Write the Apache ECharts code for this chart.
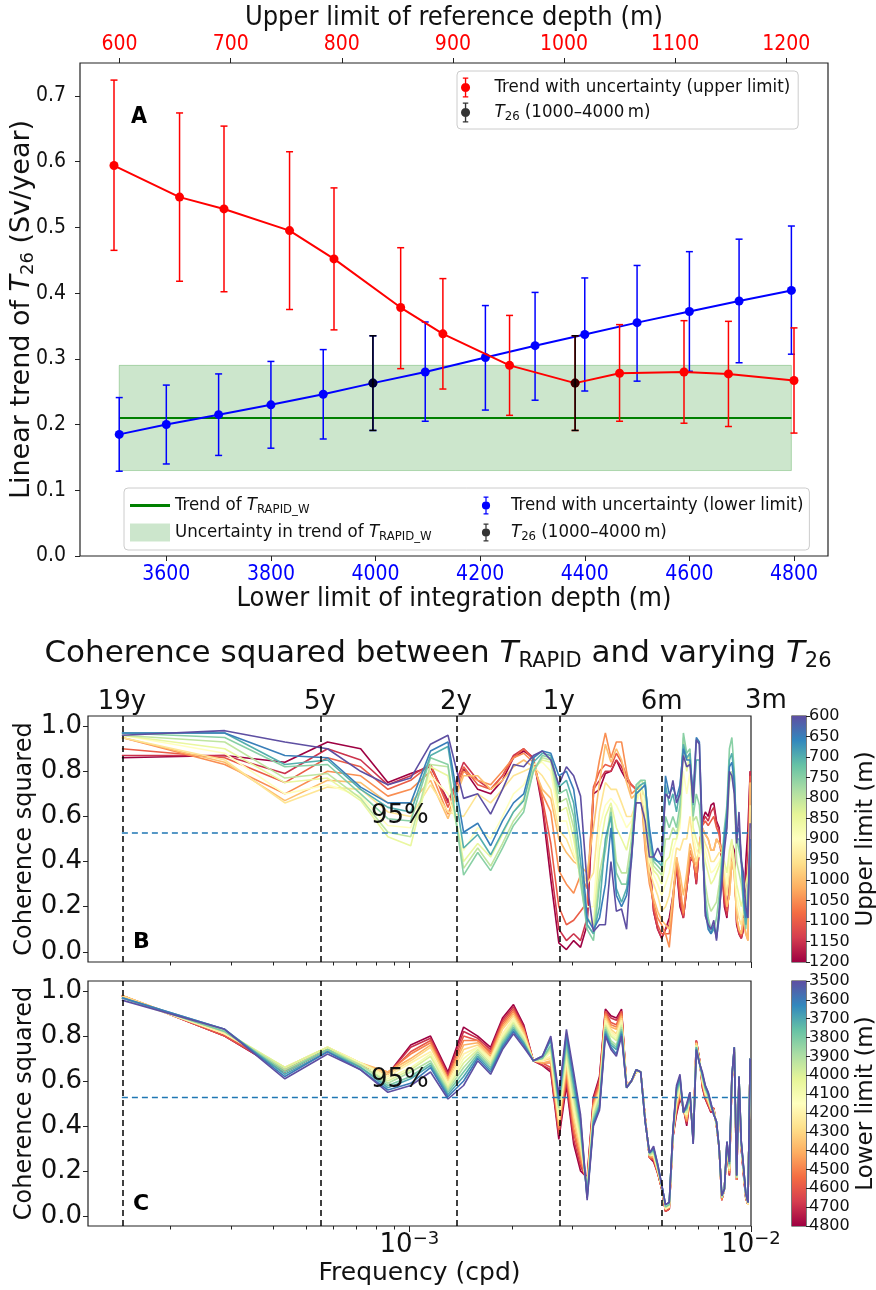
<!DOCTYPE html>
<html>
<head>
<meta charset="utf-8">
<title>T26 trend and coherence</title>
<script src="https://cdn.jsdelivr.net/npm/echarts@6.0.0/dist/echarts.min.js"></script>
<style>
html, body { margin: 0; padding: 0; background: #fff; }
#chart { width: 876px; height: 1290px; }
</style>
</head>
<body>
<div id="chart"></div>
<script>
// ---------- panel A : linear trend of T26 ----------
var lowerDepth = [3510, 3600, 3700, 3800, 3900, 3995, 4095, 4210, 4305, 4400, 4500, 4600, 4695, 4795];
var lowerTrend = [0.185, 0.200, 0.215, 0.230, 0.246, 0.263, 0.280, 0.302, 0.320, 0.337, 0.355, 0.372, 0.388, 0.404];
var lowerErrLo = [0.129, 0.140, 0.153, 0.164, 0.178, 0.191, 0.205, 0.222, 0.237, 0.251, 0.266, 0.281, 0.294, 0.307];
var lowerErrHi = [0.241, 0.260, 0.277, 0.296, 0.314, 0.335, 0.356, 0.381, 0.401, 0.423, 0.442, 0.463, 0.482, 0.502];

var upperDepth = [595, 654, 694, 753, 793, 853, 891, 951, 1010, 1050, 1108, 1148, 1207];
var upperTrend = [0.594, 0.546, 0.528, 0.495, 0.452, 0.378, 0.338, 0.290, 0.263, 0.278, 0.280, 0.277, 0.267];
var upperErrLo = [0.465, 0.418, 0.402, 0.375, 0.344, 0.285, 0.254, 0.214, 0.191, 0.205, 0.202, 0.197, 0.187];
var upperErrHi = [0.724, 0.674, 0.654, 0.615, 0.560, 0.469, 0.422, 0.366, 0.335, 0.352, 0.358, 0.357, 0.347];

// T26 (1000-4000 m): same point seen on both axes
var t26Depth = [3995, 1010];
var t26Trend = 0.263, t26Lo = 0.191, t26Hi = 0.335;

// T_RAPID_W trend and its uncertainty
var rapidTrend = 0.21, rapidLo = 0.13, rapidHi = 0.29;

var ticksLower = [3600, 3800, 4000, 4200, 4400, 4600, 4800];
var ticksUpper = [600, 700, 800, 900, 1000, 1100, 1200];
var ticksTrend = [0, 0.1, 0.2, 0.3, 0.4, 0.5, 0.6, 0.7];

// ---------- panels B, C : coherence squared ----------
// frequencies in 1e-4 cpd
var freqE4 = [1.44, 2.88, 4.32, 5.76, 7.20, 8.65, 10.09, 11.53, 12.97, 14.41, 15.85, 17.29, 18.73, 20.17, 21.61,
  23.06, 24.50, 25.94, 27.38, 28.82, 30.26, 31.70, 33.14, 34.58, 36.02, 37.47, 38.91, 40.35, 41.79, 43.23,
  44.67, 46.11, 47.55, 48.99, 50.43, 51.87, 53.32, 54.76, 56.20, 57.64, 59.08, 60.52, 61.96, 63.40, 64.84,
  66.28, 67.73, 69.17, 70.61, 72.05, 73.49, 74.93, 76.37, 77.81, 79.25, 80.69, 82.14, 83.58, 85.02, 86.46,
  87.90, 89.34, 90.78, 92.22, 93.66, 95.10, 96.55, 97.99, 99.43];

var upperLimits = [600, 650, 700, 750, 800, 850, 900, 950, 1000, 1050, 1100, 1150, 1200];
var lowerLimits = [3500, 3600, 3700, 3800, 3900, 4000, 4100, 4200, 4300, 4400, 4500, 4600, 4700, 4800];

// one row per frequency, one column per upper limit (percent)
var cohUpper = [
  [96,97,97,97,96,96,96,95,95,95,90,87,86],
  [98,97,97,95,93,90,88,85,84,83,86,87,87],
  [93,87,83,82,77,75,70,66,67,70,75,79,84],
  [90,86,85,83,79,77,74,73,76,80,86,90,93],
  [80,73,72,70,68,67,69,72,75,78,82,85,90],
  [74,66,64,59,53,51,56,62,66,69,72,74,75],
  [77,66,62,58,51,47,55,60,66,72,76,78,79],
  [92,89,87,86,83,82,78,74,76,80,83,83,82],
  [96,93,91,83,82,78,70,62,59,61,64,66,67],
  [68,53,46,34,37,40,45,60,78,80,82,84,81],
  [70,57,52,44,46,48,55,70,78,76,74,76,72],
  [61,47,43,36,38,42,50,66,72,74,72,72,70],
  [72,58,53,46,48,52,60,72,76,80,78,78,76],
  [83,66,62,56,58,62,70,78,82,86,86,87,86],
  [82,70,67,62,64,68,74,80,85,88,90,90,89],
  [87,86,84,80,80,81,83,82,82,84,85,86,86],
  [89,89,88,87,86,85,84,78,72,70,68,66,64],
  [85,88,87,86,85,84,80,72,68,62,48,38,32],
  [74,78,73,70,66,62,58,54,50,36,20,10,4],
  [82,80,76,72,68,64,58,50,44,30,12,5,1],
  [78,72,66,60,55,50,44,42,40,26,14,8,5],
  [69,50,40,32,30,32,34,38,38,34,18,5,2],
  [30,15,12,10,12,15,20,30,35,28,22,15,12],
  [9,10,8,5,8,12,20,35,55,70,73,72,70],
  [12,15,20,30,35,45,55,62,75,85,80,76,72],
  [12,30,50,45,48,60,65,75,92,97,83,80,79],
  [40,55,60,62,64,66,68,72,84,86,82,80,80],
  [18,25,28,35,40,55,65,72,90,93,88,85,85],
  [19,20,22,30,35,50,60,66,85,93,84,82,80],
  [10,25,28,30,35,45,55,60,75,80,78,76,76],
  [42,40,42,45,50,55,58,60,68,70,74,74,74],
  [66,70,72,74,72,68,65,66,70,72,72,72,72],
  [66,72,74,76,76,74,73,72,72,73,73,74,73],
  [58,74,75,76,74,68,62,55,48,45,50,54,55],
  [42,55,52,48,46,42,40,36,32,30,36,40,42],
  [42,42,41,40,38,36,34,30,24,22,20,18,18],
  [46,40,40,38,36,34,30,25,18,15,12,10,10],
  [42,40,38,36,34,30,25,18,14,12,8,6,6],
  [70,78,74,60,50,40,30,20,12,8,8,10,10],
  [68,70,65,55,50,42,35,25,10,2,8,12,15],
  [76,73,70,60,55,50,45,35,25,20,22,24,25],
  [66,68,62,55,52,50,50,46,42,42,40,38,38],
  [70,74,72,65,60,58,55,45,35,30,25,22,20],
  [87,90,92,97,95,90,80,50,25,17,16,15,15],
  [82,85,86,88,85,80,70,50,35,30,29,28,28],
  [83,85,88,90,88,88,80,60,48,45,42,40,40],
  [66,70,65,60,58,55,52,48,42,40,41,42,42],
  [94,95,85,70,60,50,45,40,38,35,32,30,30],
  [92,93,85,65,55,45,42,45,48,48,47,46,46],
  [50,52,50,45,45,48,50,52,55,55,56,57,58],
  [16,18,20,25,30,40,45,48,52,52,58,60,62],
  [12,10,12,15,22,35,40,45,50,50,56,58,60],
  [10,8,8,10,18,30,35,40,45,45,58,62,65],
  [14,12,10,10,20,32,36,40,45,45,60,64,66],
  [5,6,8,15,22,35,38,42,50,50,55,57,58],
  [18,15,18,25,30,38,40,44,48,48,52,54,55],
  [30,35,38,40,42,42,43,44,45,45,42,40,38],
  [45,50,52,55,50,40,38,35,30,30,25,22,20],
  [55,60,62,65,55,35,30,25,20,20,18,16,15],
  [80,82,85,90,75,45,40,35,25,25,28,29,30],
  [78,84,88,95,80,50,48,45,40,40,44,46,48],
  [70,75,78,80,70,40,38,36,35,35,40,43,45],
  [48,52,50,50,40,30,25,20,15,15,14,13,12],
  [62,55,50,45,35,25,20,15,10,10,9,8,8],
  [40,42,41,40,30,20,15,12,8,8,7,6,6],
  [35,25,22,20,22,25,22,18,15,15,12,10,10],
  [20,15,12,10,20,30,25,15,8,8,20,30,40],
  [15,20,22,25,30,35,30,20,5,5,30,45,55],
  [57,50,48,45,48,50,55,65,75,75,78,80,80]
];

// one row per frequency, one column per lower limit (percent)
var cohLower = [
  [96,97,97,97,97,97,97,97,98,98,98,98,98,98],
  [83,83,83,82,82,82,82,81,81,81,81,80,80,80],
  [61,62,63,64,65,66,66,66,66,66,65,65,64,64],
  [72,73,73,74,74,75,75,75,75,75,74,74,74,74],
  [65,65,66,66,67,67,68,68,68,68,67,67,67,67],
  [55,56,57,58,59,60,61,62,63,64,64,63,63,63],
  [58,59,61,62,64,65,66,68,69,70,72,73,75,76],
  [64,66,67,68,69,71,72,73,75,76,77,78,79,80],
  [52,53,54,55,56,57,58,59,60,61,61,62,63,64],
  [58,60,62,64,66,68,70,72,74,76,78,80,82,84],
  [69,70,71,72,73,74,75,75,76,77,78,78,79,80],
  [63,64,65,66,67,68,69,70,70,71,72,73,74,75],
  [74,75,76,77,78,79,80,81,83,84,85,86,87,88],
  [81,82,83,84,85,86,87,88,89,90,91,92,93,94],
  [75,76,77,77,78,79,80,80,81,82,83,83,84,85],
  [69,69,69,69,69,69,69,69,69,69,69,69,69,69],
  [71,71,71,70,70,70,69,69,69,68,68,68,67,67],
  [80,79,78,76,75,74,73,71,70,69,68,66,65,64],
  [54,52,51,49,48,46,45,43,42,40,39,37,36,34],
  [83,81,79,77,75,73,71,70,68,66,64,62,60,58],
  [64,62,59,57,54,52,49,47,44,42,39,37,34,32],
  [45,43,41,39,37,35,34,32,30,28,26,24,22,20],
  [7,8,8,9,10,11,11,12,13,14,14,15,16,17],
  [40,41,42,43,44,45,46,47,48,49,50,51,52,53],
  [47,48,49,50,52,53,54,55,56,57,58,60,61,62],
  [80,81,82,83,84,85,86,87,88,89,90,91,91,92],
  [74,75,76,77,78,80,81,82,83,84,85,86,88,89],
  [71,72,74,75,76,78,79,80,81,83,84,85,87,88],
  [80,81,82,83,84,85,86,87,88,89,90,91,91,92],
  [57,57,57,57,57,57,57,58,58,58,58,58,58,58],
  [60,60,60,60,60,60,60,60,60,60,60,60,60,60],
  [65,65,65,65,65,65,65,64,64,64,64,64,64,64],
  [64,64,64,64,64,64,64,64,64,64,64,64,64,64],
  [42,42,42,42,43,43,43,43,43,43,44,44,44,44],
  [28,28,28,28,27,27,27,27,27,27,26,26,26,26],
  [31,30,30,29,29,28,28,27,27,26,26,25,25,24],
  [23,23,22,22,22,21,21,21,20,20,20,19,19,19],
  [14,14,14,14,13,13,13,13,13,13,12,12,12,12],
  [5,5,5,4,4,4,4,3,3,3,3,2,2,2],
  [6,6,6,5,5,5,5,4,4,4,4,3,3,3],
  [38,38,38,37,37,37,37,36,36,36,36,35,35,35],
  [58,57,56,55,54,53,52,51,50,49,48,47,46,45],
  [63,62,61,60,60,59,58,57,56,55,55,54,53,52],
  [46,46,46,46,47,47,47,47,47,47,48,48,48,48],
  [50,49,48,48,47,46,45,45,44,43,42,42,41,40],
  [55,55,55,54,54,54,54,53,53,53,53,52,52,52],
  [32,32,33,33,33,34,34,34,35,35,35,36,36,36],
  [74,74,75,75,75,76,76,76,77,77,77,78,78,78],
  [68,68,68,68,69,69,69,69,69,69,70,70,70,70],
  [64,63,63,62,62,61,61,60,60,59,59,58,58,57],
  [58,58,57,57,56,56,55,55,54,54,53,53,52,52],
  [55,55,54,54,53,53,52,52,51,51,50,50,49,49],
  [50,50,49,49,49,48,48,48,48,47,47,47,46,46],
  [45,45,45,46,46,46,46,47,47,47,47,48,48,48],
  [42,42,42,41,41,41,41,41,41,40,40,40,40,40],
  [30,30,30,30,30,30,30,30,30,30,30,30,30,30],
  [9,9,9,9,8,8,8,8,8,8,7,7,7,7],
  [12,12,12,12,12,12,12,12,12,12,12,12,12,12],
  [33,33,33,32,32,32,32,31,31,31,31,30,30,30],
  [24,24,23,23,22,22,21,21,20,20,19,19,18,18],
  [62,62,62,62,61,61,61,61,61,61,60,60,60,60],
  [75,75,75,75,74,74,74,74,74,74,73,73,73,73],
  [18,18,18,18,17,17,17,17,17,17,16,16,16,16],
  [62,62,62,62,61,61,61,61,61,61,60,60,60,60],
  [33,33,33,32,32,32,32,31,31,31,31,30,30,30],
  [22,22,21,21,21,20,20,20,20,19,19,19,18,18],
  [10,10,10,10,9,9,9,9,9,9,8,8,8,8],
  [6,6,6,6,6,6,6,5,5,5,5,5,5,5],
  [70,70,70,70,70,70,70,70,70,70,70,70,70,70]
];

var sig95 = 0.527;
var periodLabel = ['19y', '5y', '2y', '1y', '6m', '3m'];
var periodDays = [6939.75, 1826.25, 730.5, 365.25, 182.625, 91.3125];
var freqMin = 1.146e-4, freqMax = 1e-2;
var minorFreq = [2e-4, 3e-4, 4e-4, 5e-4, 6e-4, 7e-4, 8e-4, 9e-4, 2e-3, 3e-3, 4e-3, 5e-3, 6e-3, 7e-3, 8e-3, 9e-3];
var majorFreq = [1e-3, 1e-2];

// ---------- styling helpers ----------
var FA = '"DejaVu Sans Condensed", "DejaVu Sans", sans-serif';
var FB = '"DejaVu Sans", sans-serif';
var INK = '#222';
var spectral = ['#9e0142', '#d53e4f', '#f46d43', '#fdae61', '#fee08b', '#ffffbf',
  '#e6f598', '#abdda4', '#66c2a5', '#3288bd', '#5e4fa2'];

function hexRgb(h) {
  return [parseInt(h.substr(1, 2), 16), parseInt(h.substr(3, 2), 16), parseInt(h.substr(5, 2), 16)];
}
function cmap(t) {
  var p = t * (spectral.length - 1);
  var i = Math.min(Math.floor(p), spectral.length - 2);
  var f = p - i, a = hexRgb(spectral[i]), b = hexRgb(spectral[i + 1]);
  return 'rgb(' + [0, 1, 2].map(function (j) { return Math.round(a[j] + (b[j] - a[j]) * f); }).join(',') + ')';
}
var lg = Math.log10;
var XMIN = lg(freqMin), XMAX = lg(freqMax);
var periodLog = periodDays.map(function (d) { return lg(1 / d); });

// error bars as a custom series
function errBars(name, xIdx, xs, lo, hi, color, z) {
  return {
    type: 'custom', name: name, xAxisIndex: xIdx, yAxisIndex: 0, z: z, silent: true,
    itemStyle: { color: color },
    data: xs.map(function (x, i) { return [x, lo[i], hi[i]]; }),
    renderItem: function (params, api) {
      var a = api.coord([api.value(0), api.value(2)]);
      var b = api.coord([api.value(0), api.value(1)]);
      var st = { stroke: color, lineWidth: 1.5 };
      return { type: 'group', children: [
        { type: 'line', shape: { x1: a[0], y1: a[1], x2: b[0], y2: b[1] }, style: st },
        { type: 'line', shape: { x1: a[0] - 3.5, y1: a[1], x2: a[0] + 3.5, y2: a[1] }, style: st },
        { type: 'line', shape: { x1: b[0] - 3.5, y1: b[1], x2: b[0] + 3.5, y2: b[1] }, style: st }
      ] };
    }
  };
}

// one line per depth limit, coloured with Spectral
function cohSeries(table, limits, xIdx, yIdx) {
  var lo = limits[0], hi = limits[limits.length - 1], out = [];
  for (var j = limits.length - 1; j >= 0; j--) {
    out.push({
      type: 'line', xAxisIndex: xIdx, yAxisIndex: yIdx, symbol: 'none', silent: true, z: 3,
      lineStyle: { color: cmap(1 - (limits[j] - lo) / (hi - lo)), width: 1.6 },
      data: freqE4.map(function (f, i) { return [lg(f * 1e-4), table[i][j] / 100]; })
    });
  }
  return out;
}

function colorbar(xIdx, yIdx, limits) {
  var stops = spectral.slice().reverse().map(function (c, i) { return { offset: i / 10, color: c }; });
  return {
    type: 'custom', xAxisIndex: xIdx, yAxisIndex: yIdx, silent: true,
    data: [[0, limits[0], 1, limits[limits.length - 1]]],
    renderItem: function (params, api) {
      var p0 = api.coord([api.value(0), api.value(1)]);
      var p1 = api.coord([api.value(2), api.value(3)]);
      return { type: 'rect',
        shape: { x: p0[0], y: Math.min(p0[1], p1[1]), width: p1[0] - p0[0], height: Math.abs(p1[1] - p0[1]) },
        style: { fill: new echarts.graphic.LinearGradient(0, 0, 0, 1, stops) } };
    }
  };
}

var ebIcon = 'path://M3,0H9V1.5H6.75V20.5H9V22H3V20.5H5.25V1.5H3Z M6,6A5,5,0,1,1,6,16A5,5,0,1,1,6,6Z';
var legendNames = {
  upper: 'Trend with uncertainty (upper limit)',
  lower: 'Trend with uncertainty (lower limit)',
  t26: '{i|T}{s|26} (1000\u20134000\u2009m)',
  rapid: 'Trend of {i|T}{s|RAPID_W}',
  band: 'Uncertainty in trend of {i|T}{s|RAPID_W}'
};
var legendRich = {
  i: { fontFamily: FA, fontStyle: 'italic', fontSize: 18.5, lineHeight: 21, color: '#111' },
  s: { fontFamily: FA, fontSize: 13, lineHeight: 12, verticalAlign: 'bottom', color: '#111' }
};

function cohY(grid) {
  return {
    gridIndex: grid, type: 'value', min: -0.045, max: 1.045,
    axisLine: { show: false, onZero: false }, splitLine: { show: false },
    axisTick: { show: true, customValues: [0, 0.2, 0.4, 0.6, 0.8, 1.0], length: 5, lineStyle: { color: INK } },
    axisLabel: { customValues: [0, 0.2, 0.4, 0.6, 0.8, 1.0], formatter: function (v) { return v.toFixed(1); },
      fontFamily: FB, fontSize: 26, color: '#111', margin: 6 },
    name: 'Coherence squared', nameLocation: 'middle', nameGap: 51, nameRotate: 90, nameMoveOverlap: false,
    nameTextStyle: { fontFamily: FB, fontSize: 24, color: '#111' }
  };
}
function freqX(grid, values, len, labels) {
  return {
    gridIndex: grid, type: 'value', position: 'bottom', min: XMIN, max: XMAX,
    axisLine: { show: false, onZero: false }, splitLine: { show: false },
    axisTick: { show: true, customValues: values, length: len, lineStyle: { color: INK } },
    axisLabel: labels ? {
      customValues: values, margin: 4,
      formatter: function (v) { return '{b|10}{e|\u2212' + Math.round(-v) + '}'; },
      rich: { b: { fontFamily: FB, fontSize: 26, lineHeight: 30, color: '#111' },
              e: { fontFamily: FB, fontSize: 18, lineHeight: 16, verticalAlign: 'top', color: '#111' } }
    } : { show: false }
  };
}
function cbY(grid, limits, step, label) {
  return {
    gridIndex: grid, type: 'value', position: 'right', inverse: true,
    min: limits[0], max: limits[limits.length - 1], interval: step,
    axisLine: { show: false, onZero: false }, splitLine: { show: false },
    axisTick: { show: true, length: 4, lineStyle: { color: INK } },
    axisLabel: { fontFamily: FB, fontSize: 16, color: '#111', margin: 3, formatter: function (v) { return String(v); } },
    name: label, nameLocation: 'middle', nameRotate: 90, nameGap: 49, nameMoveOverlap: false,
    nameTextStyle: { fontFamily: FB, fontSize: 23, color: '#111' }
  };
}

var gridBorder = { show: true, borderColor: INK, borderWidth: 1.2, backgroundColor: 'transparent',
  containLabel: false, outerBoundsMode: 'none' };

var option = {
  animation: false,
  backgroundColor: '#fff',
  title: [
    { text: 'A', left: 131, top: 106, padding: 0, textStyle: { fontFamily: FA, fontWeight: 'bold', fontSize: 23, color: '#000' } },
    { text: 'Coherence squared between {i|T}{s|RAPID} and varying {i|T}{s|26}', left: 'center', top: 636, padding: 0,
      textStyle: { fontFamily: FB, fontSize: 31, fontWeight: 'normal', lineHeight: 36, color: '#111',
        rich: { i: { fontFamily: FB, fontStyle: 'italic', fontSize: 31, lineHeight: 36, color: '#111' },
                s: { fontFamily: FB, fontSize: 21, lineHeight: 22, verticalAlign: 'bottom', color: '#111' } } } },
    { text: 'B', left: 133, top: 931, padding: 0, textStyle: { fontFamily: FB, fontWeight: 'bold', fontSize: 22, color: '#000' } },
    { text: 'C', left: 133, top: 1193, padding: 0, textStyle: { fontFamily: FB, fontWeight: 'bold', fontSize: 22, color: '#000' } },
    { text: '95%', left: 371, top: 803, padding: 0, textStyle: { fontFamily: FB, fontWeight: 'normal', fontSize: 26, color: '#111' } },
    { text: '95%', left: 371, top: 1067, padding: 0, textStyle: { fontFamily: FB, fontWeight: 'normal', fontSize: 26, color: '#111' } },
    { text: periodLabel[5], left: 745, top: 688, padding: 0, textStyle: { fontFamily: FB, fontWeight: 'normal', fontSize: 26, color: '#111' } }
  ],
  legend: [
    { data: [{ name: 'upper', icon: ebIcon }, { name: 't26', icon: ebIcon }],
      orient: 'vertical', left: 457, top: 71, itemWidth: 48, itemHeight: 20, itemGap: 4,
      padding: [6, 8, 6, 4], selectedMode: false, symbolKeepAspect: true,
      borderColor: '#ccc', borderWidth: 1, borderRadius: 4, backgroundColor: 'rgba(255,255,255,0.85)',
      formatter: function (n) { return legendNames[n]; },
      textStyle: { fontFamily: FA, fontSize: 18.5, lineHeight: 21, color: '#111', rich: legendRich } },
    { data: [{ name: 'rapid', icon: 'path://M0,0H14V1H0Z' }, { name: 'band', icon: 'rect' },
             { name: 'lower', icon: ebIcon }, { name: 't26', icon: ebIcon }],
      orient: 'vertical', left: 124, top: 488, height: 52, itemWidth: 40, itemHeight: 18, itemGap: 6,
      padding: [7, 6, 7, 6], selectedMode: false, symbolKeepAspect: true,
      borderColor: '#ccc', borderWidth: 1, borderRadius: 4, backgroundColor: 'rgba(255,255,255,0.85)',
      formatter: function (n) { return legendNames[n]; },
      textStyle: { fontFamily: FA, fontSize: 18.5, lineHeight: 21, width: 285, color: '#111', rich: legendRich } }
  ],
  grid: [
    Object.assign({ left: 80, top: 63, width: 748, height: 493 }, gridBorder),
    Object.assign({ left: 88, top: 716, width: 663, height: 246 }, gridBorder),
    Object.assign({ left: 88, top: 981, width: 663, height: 245 }, gridBorder),
    Object.assign({ left: 792, top: 716, width: 14, height: 246 }, gridBorder),
    Object.assign({ left: 792, top: 981, width: 14, height: 245 }, gridBorder)
  ],
  xAxis: [
    { gridIndex: 0, type: 'value', position: 'bottom', min: 3435, max: 4865,
      axisLine: { show: false, onZero: false }, splitLine: { show: false },
      axisTick: { show: true, customValues: ticksLower, length: 5, lineStyle: { color: INK } },
      axisLabel: { customValues: ticksLower, formatter: function (v) { return String(v); },
        color: '#0000ff', fontFamily: FA, fontSize: 21, margin: 8 },
      name: 'Lower limit of integration depth (m)', nameLocation: 'middle', nameGap: 29,
      nameTextStyle: { fontFamily: FA, fontSize: 27, color: '#111' } },
    { gridIndex: 0, type: 'value', position: 'top', min: 564.4, max: 1237.6,
      axisLine: { show: false, onZero: false }, splitLine: { show: false },
      axisTick: { show: true, customValues: ticksUpper, length: 5, lineStyle: { color: INK } },
      axisLabel: { customValues: ticksUpper, formatter: function (v) { return String(v); },
        color: '#ff0000', fontFamily: FA, fontSize: 21, margin: 8 },
      name: 'Upper limit of reference depth (m)', nameLocation: 'middle', nameGap: 32,
      nameTextStyle: { fontFamily: FA, fontSize: 27, color: '#111' } },
    freqX(1, majorFreq.map(lg), 6, false),
    freqX(1, minorFreq.map(lg), 3.5, false),
    { gridIndex: 1, type: 'value', position: 'top', min: XMIN, max: XMAX,
      axisLine: { show: false, onZero: false }, splitLine: { show: false }, axisTick: { show: false },
      axisLabel: { customValues: periodLog.slice(0, 5), margin: 1, fontFamily: FB, fontSize: 26, color: '#111',
        formatter: function (v) {
          for (var i = 0; i < periodLog.length; i++) if (Math.abs(periodLog[i] - v) < 1e-6) return periodLabel[i];
          return '';
        } } },
    Object.assign(freqX(2, majorFreq.map(lg), 6, true), {
      name: 'Frequency (cpd)', nameLocation: 'middle', nameGap: 35,
      nameTextStyle: { fontFamily: FB, fontSize: 25, color: '#111' } }),
    freqX(2, minorFreq.map(lg), 3.5, false),
    { gridIndex: 3, type: 'value', min: 0, max: 1, show: false },
    { gridIndex: 4, type: 'value', min: 0, max: 1, show: false }
  ],
  yAxis: [
    { gridIndex: 0, type: 'value', min: 0, max: 0.75,
      axisLine: { show: false, onZero: false }, splitLine: { show: false },
      axisTick: { show: true, customValues: ticksTrend, length: 5, lineStyle: { color: INK } },
      axisLabel: { customValues: ticksTrend, formatter: function (v) { return v.toFixed(1); },
        fontFamily: FA, fontSize: 21, color: '#111', margin: 14 },
      name: 'Linear trend of {i|T}{s|26} (Sv/year)', nameLocation: 'middle', nameGap: 43, nameRotate: 90,
      nameMoveOverlap: false,
      nameTextStyle: { fontFamily: FB, fontSize: 27, lineHeight: 31, color: '#111',
        rich: { i: { fontFamily: FB, fontStyle: 'italic', fontSize: 27, lineHeight: 31, color: '#111' },
                s: { fontFamily: FB, fontSize: 18, lineHeight: 17, verticalAlign: 'bottom', color: '#111' } } } },
    cohY(1),
    cohY(2),
    cbY(3, upperLimits, 50, 'Upper limit (m)'),
    cbY(4, lowerLimits, 100, 'Lower limit (m)')
  ],
  series: []
};

var S = option.series;
// panel A
S.push({ type: 'custom', name: 'band', xAxisIndex: 0, yAxisIndex: 0, z: 1, silent: true,
  itemStyle: { color: 'rgba(0,128,0,0.2)' },
  data: [[lowerDepth[0], lowerDepth[lowerDepth.length - 1], rapidLo, rapidHi]],
  renderItem: function (params, api) {
    var a = api.coord([api.value(0), api.value(3)]), b = api.coord([api.value(1), api.value(2)]);
    return { type: 'rect', shape: { x: a[0], y: a[1], width: b[0] - a[0], height: b[1] - a[1] },
      style: { fill: 'rgba(0,128,0,0.2)', stroke: 'rgba(0,128,0,0.25)', lineWidth: 1 } };
  } });
S.push({ type: 'line', name: 'rapid', xAxisIndex: 0, yAxisIndex: 0, z: 2, symbol: 'none', silent: true,
  itemStyle: { color: '#008000' }, lineStyle: { color: '#008000', width: 2 },
  data: [[lowerDepth[0], rapidTrend], [lowerDepth[lowerDepth.length - 1], rapidTrend]] });
S.push(errBars('lower', 0, lowerDepth, lowerErrLo, lowerErrHi, '#0000ff', 3));
S.push({ type: 'line', name: 'lower', xAxisIndex: 0, yAxisIndex: 0, z: 4, silent: true,
  symbol: 'circle', symbolSize: 9, itemStyle: { color: '#0000ff' }, lineStyle: { color: '#0000ff', width: 2 },
  data: lowerDepth.map(function (d, i) { return [d, lowerTrend[i]]; }) });
S.push(errBars('upper', 1, upperDepth, upperErrLo, upperErrHi, '#ff0000', 5));
S.push({ type: 'line', name: 'upper', xAxisIndex: 1, yAxisIndex: 0, z: 6, silent: true,
  symbol: 'circle', symbolSize: 9, itemStyle: { color: '#ff0000' }, lineStyle: { color: '#ff0000', width: 2 },
  data: upperDepth.map(function (d, i) { return [d, upperTrend[i]]; }) });
S.push({ type: 'scatter', name: 't26', xAxisIndex: 0, yAxisIndex: 0, z: 8, silent: true, symbolSize: 9,
  itemStyle: { color: '#000' }, data: [[t26Depth[0], t26Trend]] });
S.push({ type: 'scatter', name: 't26', xAxisIndex: 1, yAxisIndex: 0, z: 8, silent: true, symbolSize: 9,
  itemStyle: { color: '#000' }, data: [[t26Depth[1], t26Trend]] });
S.push(errBars('t26', 0, [t26Depth[0]], [t26Lo], [t26Hi], '#000', 7));
S.push(errBars('t26', 1, [t26Depth[1]], [t26Lo], [t26Hi], '#000', 7));

// panels B and C
Array.prototype.push.apply(S, cohSeries(cohUpper, upperLimits, 2, 1));
Array.prototype.push.apply(S, cohSeries(cohLower, lowerLimits, 5, 2));
[[2, 1], [5, 2]].forEach(function (ax) {
  S.push({ type: 'line', xAxisIndex: ax[0], yAxisIndex: ax[1], z: 10, symbol: 'none', silent: true,
    lineStyle: { color: '#1f77b4', width: 1.5, type: [6, 4] },
    data: [[lg(freqE4[0] * 1e-4), sig95], [lg(freqE4[freqE4.length - 1] * 1e-4), sig95]],
    markLine: { silent: true, symbol: 'none', label: { show: false },
      lineStyle: { color: '#000', width: 1.5, type: [6, 4] },
      data: periodLog.slice(0, 5).map(function (v) { return { xAxis: v }; }) } });
});
S.push(colorbar(7, 3, upperLimits));
S.push(colorbar(8, 4, lowerLimits));

var chart = echarts.init(document.getElementById('chart'), null, { renderer: 'canvas' });
chart.setOption(option);
</script>
</body>
</html>
